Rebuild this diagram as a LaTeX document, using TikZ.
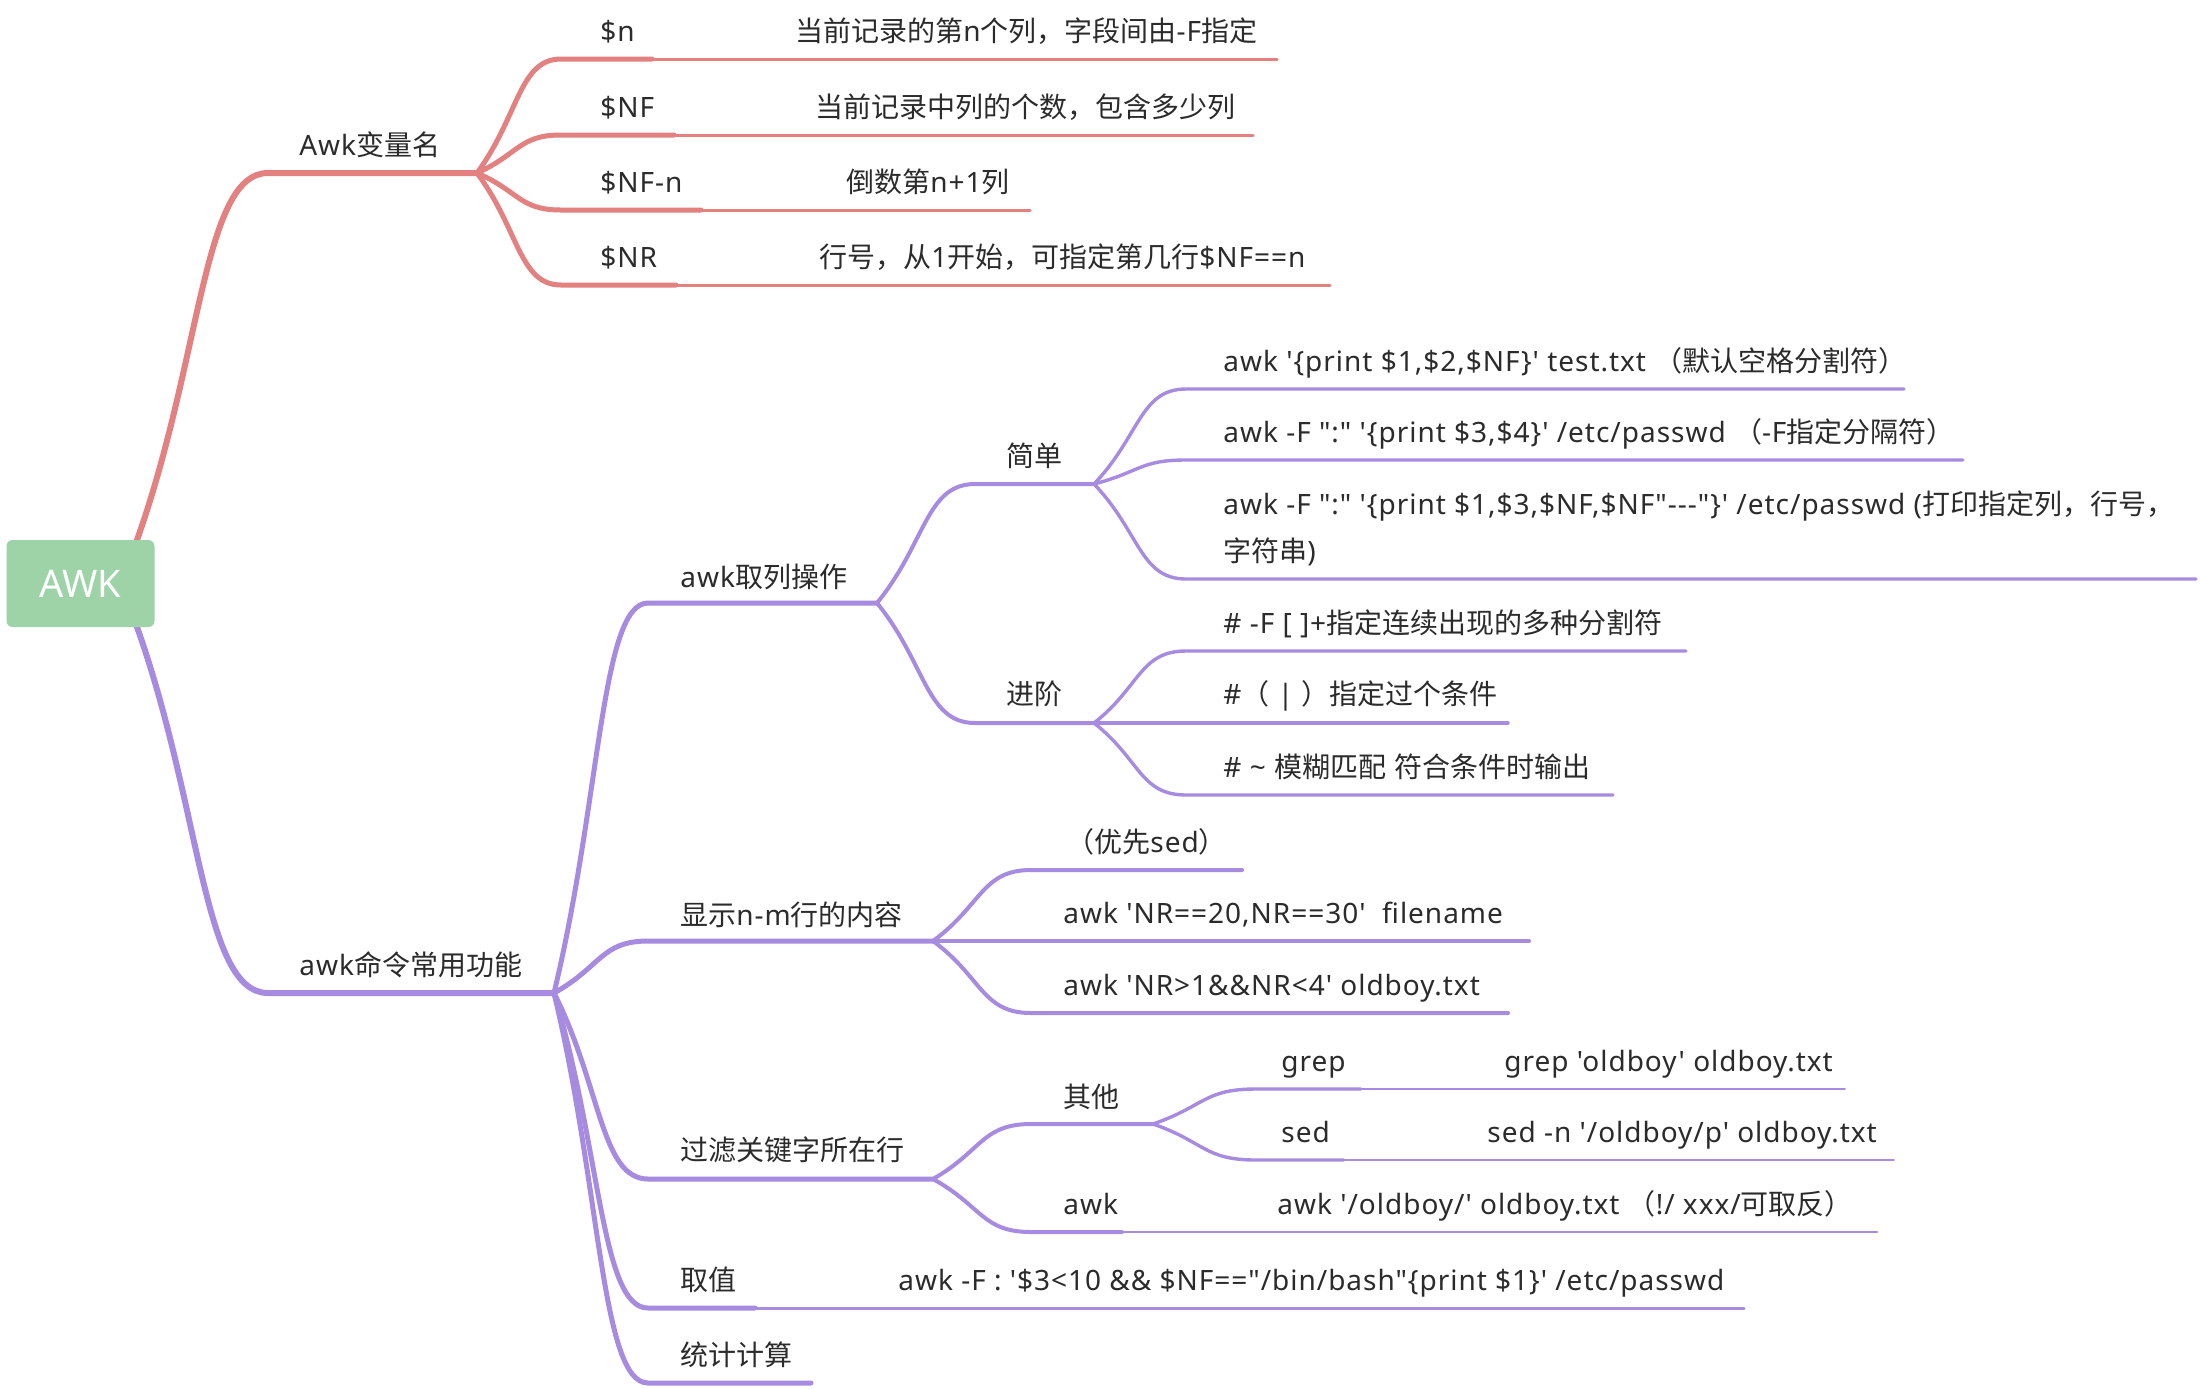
\documentclass[tikz,border=0pt]{standalone}
\usepackage{fontspec}
\newfontfamily\cjk{Noto Sans CJK SC}
\newfontfamily\latin{Noto Sans}[LetterSpace=3.5]
\newfontfamily\rootfont{Noto Sans}
% automatic switch to the CJK font for CJK characters
\newcount\zhc
\zhc=0 \loop \XeTeXcharclass\zhc=0 \advance\zhc by 1 \ifnum\zhc<"2E80 \repeat
\zhc="2E80 \loop \XeTeXcharclass\zhc=10 \advance\zhc by 1 \ifnum\zhc<"A000 \repeat
\zhc="A000 \loop \XeTeXcharclass\zhc=0 \advance\zhc by 1 \ifnum\zhc<"FF00 \repeat
\zhc="FF00 \loop \XeTeXcharclass\zhc=10 \advance\zhc by 1 \ifnum\zhc<"FFF0 \repeat
\XeTeXinterchartoks 0 10 = {\begingroup\cjk}
\XeTeXinterchartoks 4095 10 = {\begingroup\cjk}
\XeTeXinterchartoks 10 0 = {\endgroup}
\XeTeXinterchartoks 10 4095 = {\endgroup}
\XeTeXinterchartokenstate=1
\definecolor{redb}{HTML}{E38080}
\definecolor{purb}{HTML}{A68BE0}
\definecolor{rootg}{HTML}{9ED3A8}
\definecolor{txtc}{HTML}{2B2B2B}
\tikzset{
 txt/.style={anchor=base west, inner sep=0pt, text=txtc, font=\latin\fontsize{14}{17}\selectfont},
 lv1/.style={line width=3pt, line cap=round},
 lv2/.style={line width=2.5pt, line cap=round},
 lv3/.style={line width=2pt, line cap=round},
 lv4/.style={line width=1.7pt, line cap=round},
 thinA/.style={line width=1.5pt, line cap=round},
 thinB/.style={line width=1.2pt, line cap=round},
 thinC/.style={line width=0.85pt, line cap=round},
}
\begin{document}
\begin{tikzpicture}[x=0.5pt,y=-0.5pt]
\useasboundingbox[fill=white] (0,0) rectangle (2200,1388);

% ---------- red branch ----------
\begin{scope}[draw=redb]
\coordinate (r0) at (137,540);
\coordinate (r1) at (268,173);
\coordinate (rj) at (477,173);
\draw[lv1] (r0) .. controls +(65,-183) and +(-65,0) .. (r1) -- (rj);
\node[txt] (tVar) at (299,155) {Awk变量名};

\coordinate (rn) at (561,59); \coordinate (rnk) at (652,59); \coordinate (rne) at (1277,59);
\draw[lv2] (rj) .. controls +(42,-57) and +(-42,0) .. (rn) -- (rnk);
\draw[thinA] (rnk) -- (rne);
\node[txt] (tn) at (600,41) {\$n};
\node[txt] (tnd) at (795,41) {当前记录的第n个列，字段间由-F指定};

\coordinate (rf) at (561,135); \coordinate (rfk) at (674,135); \coordinate (rfe) at (1253,135);
\draw[lv2] (rj) .. controls +(42,-19) and +(-42,0) .. (rf) -- (rfk);
\draw[thinA] (rfk) -- (rfe);
\node[txt] (tnf) at (600,117) {\$NF};
\node[txt] (tnfd) at (815,117) {当前记录中列的个数，包含多少列};

\coordinate (rm) at (561,210); \coordinate (rmk) at (701,210); \coordinate (rme) at (1030,210);
\draw[lv2] (rj) .. controls +(42,18) and +(-42,0) .. (rm) -- (rmk);
\draw[thinA] (rmk) -- (rme);
\node[txt] (tnfn) at (600,192) {\$NF-n};
\node[txt] (tnfnd) at (846,192) {倒数第n+1列};

\coordinate (rr) at (561,285); \coordinate (rrk) at (676,285); \coordinate (rre) at (1330,285);
\draw[lv2] (rj) .. controls +(42,56) and +(-42,0) .. (rr) -- (rrk);
\draw[thinA] (rrk) -- (rre);
\node[txt] (tnr) at (600,267) {\$NR};
\node[txt] (tnrd) at (819,267) {行号，从1开始，可指定第几行\$NF==n};
\end{scope}

% ---------- purple branch ----------
\begin{scope}[draw=purb]
\coordinate (p0) at (137,627);
\coordinate (p1) at (268,993);
\coordinate (pj) at (554,993);
\draw[lv1] (p0) .. controls +(65,183) and +(-65,0) .. (p1) -- (pj);
\node[txt] (tCmd) at (299,975) {awk命令常用功能};

% level 2
\coordinate (a0) at (648,603); \coordinate (aj) at (877,603);
\draw[lv2] (pj) .. controls +(47,-195) and +(-47,0) .. (a0) -- (aj);
\node[txt] (tCol) at (680,587) {awk取列操作};

\coordinate (b0) at (648,941); \coordinate (bj) at (933,941);
\draw[lv2] (pj) .. controls +(47,-26) and +(-47,0) .. (b0) -- (bj);
\node[txt] (tShow) at (680,925) {显示n-m行的内容};

\coordinate (c0) at (648,1179); \coordinate (cj) at (933,1179);
\draw[lv2] (pj) .. controls +(47,93) and +(-47,0) .. (c0) -- (cj);
\node[txt] (tFilt) at (680,1160) {过滤关键字所在行};

\coordinate (d0) at (648,1308); \coordinate (dk) at (755,1308); \coordinate (de) at (1744,1308);
\draw[lv2] (pj) .. controls +(47,157) and +(-47,0) .. (d0) -- (dk);
\draw[thinA] (dk) -- (de);
\node[txt] (tVal) at (680,1290) {取值};
\node[txt] (tVald) at (898,1290) {awk -F : '\$3<10 \&\& \$NF=="/bin/bash"\{print \$1\}' /etc/passwd};

\coordinate (e0) at (648,1383); \coordinate (ee) at (811,1383);
\draw[lv2] (pj) .. controls +(47,195) and +(-47,0) .. (e0) -- (ee);
\node[txt] (tStat) at (680,1365) {统计计算};

% level 3 under awk取列操作
\coordinate (s0) at (975,484); \coordinate (sj) at (1094,484);
\draw[lv3] (aj) .. controls +(49,-60) and +(-49,0) .. (s0) -- (sj);
\node[txt] (tSimple) at (1006,466) {简单};

\coordinate (g0) at (975,723); \coordinate (gj) at (1094,723);
\draw[lv3] (aj) .. controls +(49,60) and +(-49,0) .. (g0) -- (gj);
\node[txt] (tAdv) at (1006,704) {进阶};

% level 4 under 简单
\coordinate (l1) at (1186,389); \coordinate (l1e) at (1904,389);
\draw[lv4] (sj) .. controls +(46,-48) and +(-46,0) .. (l1) -- (l1e);
\node[txt] (tL1) at (1223,371) {awk '\{print \$1,\$2,\$NF\}' test.txt （默认空格分割符）};

\coordinate (l2) at (1186,460); \coordinate (l2e) at (1963,460);
\draw[lv4] (sj) .. controls +(46,-12) and +(-46,0) .. (l2) -- (l2e);
\node[txt] (tL2) at (1223,442) {awk -F ":" '\{print \$3,\$4\}' /etc/passwd （-F指定分隔符）};

\coordinate (l3) at (1186,579); \coordinate (l3e) at (2196,579);
\draw[lv4] (sj) .. controls +(46,48) and +(-46,0) .. (l3) -- (l3e);
\node[txt, anchor=west, align=left, font=\latin\fontsize{14}{23.5}\selectfont] (tL3) at (1223,528)
  {awk -F ":" '\{print \$1,\$3,\$NF,\$NF"-{}-{}-"\}' /etc/passwd (打印指定列，行号，\\字符串)};

% level 4 under 进阶
\coordinate (m1) at (1186,651); \coordinate (m1e) at (1686,651);
\draw[lv4] (gj) .. controls +(46,-36) and +(-46,0) .. (m1) -- (m1e);
\node[txt] (tM1) at (1223,633) {\# -F [ ]+指定连续出现的多种分割符};

\coordinate (m2) at (1186,723); \coordinate (m2e) at (1508,723);
\draw[lv4] (gj) -- (m2) -- (m2e);
\node[txt] (tM2) at (1223,704) {\#（ | ）指定过个条件};

\coordinate (m3) at (1186,795); \coordinate (m3e) at (1613,795);
\draw[lv4] (gj) .. controls +(46,36) and +(-46,0) .. (m3) -- (m3e);
\node[txt] (tM3) at (1223,777) {\# \textasciitilde{} 模糊匹配 符合条件时输出};

% level 3 under 显示n-m行的内容
\coordinate (n1) at (1031,870); \coordinate (n1e) at (1242,870);
\draw[lv3] (bj) .. controls +(49,-36) and +(-49,0) .. (n1) -- (n1e);
\node[txt] (tN1) at (1066,852) {（优先sed）};

\coordinate (n2) at (1031,941); \coordinate (n2e) at (1529,941);
\draw[lv3] (bj) -- (n2) -- (n2e);
\node[txt] (tN2) at (1063,923) {awk 'NR==20,NR==30'\ \ filename};

\coordinate (n3) at (1031,1013); \coordinate (n3e) at (1508,1013);
\draw[lv3] (bj) .. controls +(49,36) and +(-49,0) .. (n3) -- (n3e);
\node[txt] (tN3) at (1063,995) {awk 'NR>1\&\&NR<4' oldboy.txt};

% level 3 under 过滤关键字所在行
\coordinate (o0) at (1031,1124); \coordinate (oj) at (1153,1124);
\draw[lv3] (cj) .. controls +(49,-28) and +(-49,0) .. (o0) -- (oj);
\node[txt] (tOther) at (1063,1107) {其他};

\coordinate (w0) at (1031,1232); \coordinate (wk) at (1122,1232); \coordinate (we) at (1877,1232);
\draw[lv3] (cj) .. controls +(49,27) and +(-49,0) .. (w0) -- (wk);
\draw[thinB] (wk) -- (we);
\node[txt] (tAwk) at (1063,1214) {awk};
\node[txt] (tAwkd) at (1277,1214) {awk '/oldboy/' oldboy.txt （!/ xxx/可取反）};

% level 4 under 其他
\coordinate (q0) at (1256,1089); \coordinate (qk) at (1361,1089); \coordinate (qe) at (1845,1089);
\draw[lv4] (oj) .. controls +(52,-18) and +(-52,0) .. (q0) -- (qk);
\draw[thinC] (qk) -- (qe);
\node[txt] (tGrep) at (1281,1071) {grep};
\node[txt] (tGrepd) at (1504,1071) {grep 'oldboy' oldboy.txt};

\coordinate (z0) at (1256,1160); \coordinate (zk) at (1344,1160); \coordinate (ze) at (1894,1160);
\draw[lv4] (oj) .. controls +(52,18) and +(-52,0) .. (z0) -- (zk);
\draw[thinC] (zk) -- (ze);
\node[txt] (tSed) at (1281,1142) {sed};
\node[txt] (tSedd) at (1487,1142) {sed -n '/oldboy/p' oldboy.txt};
\end{scope}

% ---------- root ----------
\node[fill=rootg, rounded corners=3pt, minimum width=74pt, minimum height=43.5pt, inner sep=0pt,
      text=white, font=\rootfont\fontsize{19}{22}\selectfont] (root) at (80.5,583.5) {AWK};
\end{tikzpicture}
\end{document}
